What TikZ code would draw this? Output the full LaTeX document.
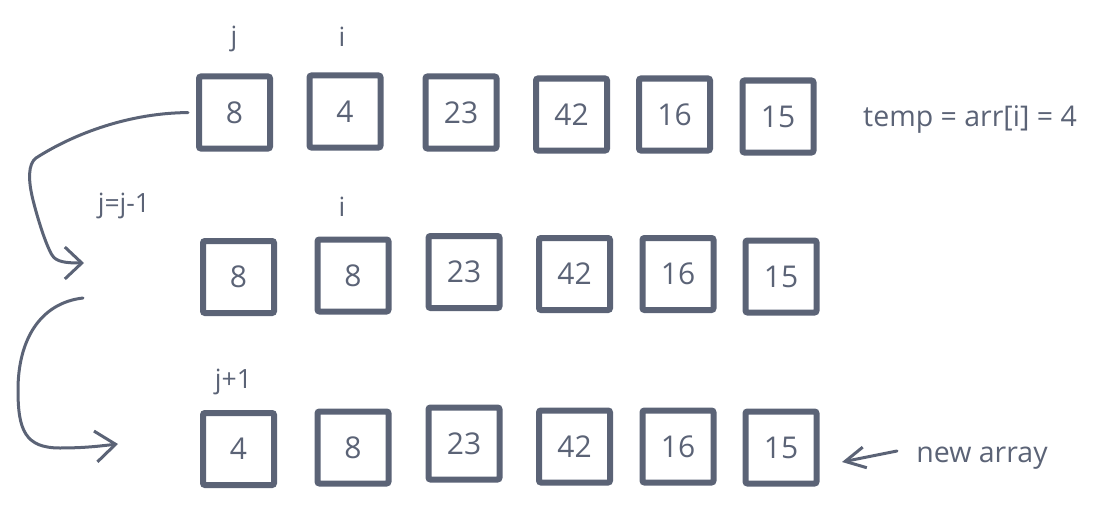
\documentclass[tikz,border=0pt]{standalone}
\usepackage{fontspec}
\setmainfont{Open Sans}
\usepackage{tikz}
\usetikzlibrary{arrows.meta}

\definecolor{slate}{RGB}{91,99,118}
\tikzset{
	cell/.style={draw=slate, line width=6, rounded corners=2, minimum width=71, minimum height=72, inner sep=0, text=slate, font=\fontsize{30}{34}\selectfont},
	lbl/.style={inner sep=0, text=slate, font=\fontsize{26.5}{30}\selectfont},
	note/.style={lbl, font=\fontsize{28.5}{32}\selectfont},
	sketch/.style={draw=slate, line width=3, line cap=round, line join=round}
}

\begin{document}
\begin{tikzpicture}[x=1pt, y=-1pt]
	\useasboundingbox (0,0) rectangle (1119,519);

	% row 1
	\node[cell] (b11) at (234.5,112.5) {8};
	\node[cell] (b12) at (345,111.5) {4};
	\node[cell] (b13) at (461,112.5) {23};
	\node[cell] (b14) at (571.5,114.5) {42};
	\node[cell] (b15) at (674.5,114.5) {16};
	\node[cell] (b16) at (778,116.5) {15};

	% row 2
	\node[cell] (b21) at (238.5,277) {8};
	\node[cell] (b22) at (353,275.5) {8};
	\node[cell] (b23) at (464,272) {23};
	\node[cell] (b24) at (574.5,274) {42};
	\node[cell] (b25) at (678,274) {16};
	\node[cell] (b26) at (781,276.5) {15};

	% row 3
	\node[cell] (b31) at (238.5,449) {4};
	\node[cell] (b32) at (353,447.5) {8};
	\node[cell] (b33) at (464,443.5) {23};
	\node[cell] (b34) at (574.5,446.5) {42};
	\node[cell] (b35) at (678,446.5) {16};
	\node[cell] (b36) at (781,447.5) {15};

	% labels
	\node[lbl, anchor=base] (jtop) at (234,46) {j};
	\node[lbl, anchor=base] (itop) at (342,47) {i};
	\node[lbl, anchor=base] (imid) at (342,216) {i};
	\node[lbl, anchor=base] (jdec) at (124,212) {j=j-1};
	\node[lbl, anchor=base] (jinc) at (233.5,388) {j+1};
	\node[note, anchor=base] (temp) at (970,126) {temp = arr[i] = 4};
	\node[note, anchor=base] (newarr) at (982,462) {new array};

	% arrows
	\coordinate (p1) at (84,263);
	\coordinate (p2) at (83,298);
	\coordinate (p3) at (118,444);
	\coordinate (p4) at (897,451);
	\coordinate (p5) at (842,462);

	\draw[sketch, shorten <=8, -{Straight Barb[length=17, width=32]}] (b11.west) .. controls (130,113) and (75,133) .. (36,158)
		.. controls (28,164) and (28,180) .. (33,200)
		.. controls (38,220) and (46,245) .. (52,255)
		.. controls (56,262) and (66,263) .. (p1);
	\draw[sketch, -{Straight Barb[length=20, width=31]}] (p2) .. controls (40,303) and (18,340) .. (18,390)
		.. controls (18,430) and (25,448) .. (60,448)
		.. controls (85,448) and (100,446) .. (p3);
	\draw[sketch, -{Straight Barb[length=20, width=21]}] (p4) -- (p5);
\end{tikzpicture}
\end{document}
